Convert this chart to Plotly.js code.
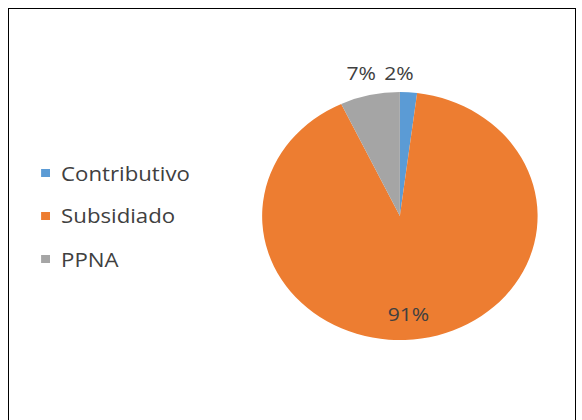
<!DOCTYPE html>
<html>
<head>
<meta charset="utf-8">
<script src="https://cdn.plot.ly/plotly-3.0.1.min.js"></script>
<style>
  html, body { margin: 0; padding: 0; background: #ffffff; overflow: hidden; }
  #wrap { position: relative; width: 582px; height: 420px; }
  #frame { position: absolute; left: 8px; top: 8px; width: 568px; height: 430px; border: 1.5px solid #000; box-sizing: border-box; pointer-events: none; }
  #chart { position: absolute; left: 0; top: 0; width: 524px; height: 420px; transform: scaleX(1.1107); transform-origin: 0 0; }
</style>
</head>
<body>
<div id="wrap">
  <div id="chart"></div>
  <div id="frame"></div>
</div>
<script>
const categories = ['Contributivo', 'Subsidiado', 'PPNA'];
const values = [2, 91, 7];
const colors = ['#5B9BD5', '#ED7D31', '#A5A5A5'];

const fontFamily = 'Open Sans, Noto Sans, sans-serif';
const W = 524, H = 420;

const trace = {
  type: 'pie',
  labels: categories,
  values: values,
  sort: false,
  direction: 'clockwise',
  rotation: 0,
  marker: { colors: colors, line: { color: '#ffffff', width: 0 } },
  textinfo: 'none',
  textposition: 'none',
  showlegend: false,
  hoverinfo: 'label+percent',
  domain: { x: [0.4504, 0.9237], y: [0.190, 0.781] },
  automargin: false
};

const total = values.reduce((a, b) => a + b, 0);
const pct = values.map(v => Math.round(100 * v / total) + '%');

const annotations = [];
const shapes = [];
// legend
const legendX = 41 / W;
const legendTextX = 53 / W;
const rowY = [173, 216, 259];
categories.forEach((c, i) => {
  const yc = 1 - rowY[i] / H;
  annotations.push({
    text: c, xref: 'paper', yref: 'paper', x: legendTextX, y: yc,
    xanchor: 'left', yanchor: 'middle', showarrow: false,
    font: { family: fontFamily, size: 20, color: '#404040' }
  });
  shapes.push({
    type: 'rect', xref: 'paper', yref: 'paper',
    x0: legendX - 4 / W, x1: legendX + 4 / W,
    y0: yc - 4 / H, y1: yc + 4 / H,
    fillcolor: colors[i], line: { width: 0 }
  });
});

// data labels (text from the values)
const labelPos = [
  { x: 344 / W, y: 1 - 73 / H, anchor: 'left' },   // Contributivo
  { x: 367 / W, y: 1 - 314 / H, anchor: 'center' }, // Subsidiado
  { x: 341 / W, y: 1 - 73 / H, anchor: 'right' }   // PPNA
];
pct.forEach((t, i) => {
  const p = labelPos[i];
  annotations.push({
    text: t, xref: 'paper', yref: 'paper', x: p.x, y: p.y,
    xanchor: p.anchor, yanchor: 'middle', showarrow: false,
    font: { family: fontFamily, size: 19, color: '#404040' }
  });
});

const layout = {
  width: W, height: H,
  margin: { l: 0, r: 0, t: 0, b: 0 },
  paper_bgcolor: '#ffffff',
  showlegend: false,
  annotations: annotations,
  shapes: shapes,
  font: { family: fontFamily, color: '#404040' }
};

Plotly.newPlot('chart', [trace], layout, { displayModeBar: false, staticPlot: true });
</script>
</body>
</html>
